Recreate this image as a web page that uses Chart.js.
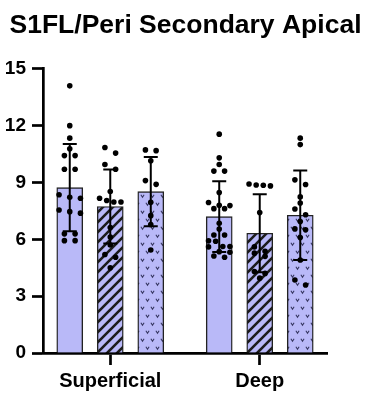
<!DOCTYPE html>
<html>
<head>
<meta charset="utf-8">
<script src="https://cdn.jsdelivr.net/npm/chart.js@4.4.0/dist/chart.umd.min.js"></script>
<style>
  html, body { margin: 0; padding: 0; background: #fff; }
  canvas { display: block; }
</style>
</head>
<body>
<canvas id="chart" width="365" height="395"></canvas>
<script>
// chart data
const categories = ["Superficial", "Deep"];
const seriesNames = ["Group 1", "Group 2", "Group 3"];
const yTicks = [0, 3, 6, 9, 12, 15];

// bar height (mean) and SD for each series, per category
const meanA = [8.73, 7.20];
const meanB = [7.73, 6.32];
const meanC = [8.52, 7.27];
const sdA = [2.30, 1.87];
const sdB = [1.95, 2.06];
const sdC = [1.83, 2.36];

// individual points, per category
const pointsA = [
  [14.1, 12.0, 11.34, 10.78, 10.42, 10.42, 9.7, 9.7, 8.35, 8.22, 8.17, 7.55, 7.46, 7.38, 6.29, 6.29, 5.93, 5.93],
  [11.55, 10.3, 9.95, 9.6, 9.6, 8.47, 7.94, 7.8, 7.78, 7.62, 7.62, 6.85, 6.54, 6.23, 6.23, 5.92, 5.9, 5.62, 5.62, 5.6, 5.35, 5.32, 5.12, 5.05]
];
const pointsB = [
  [10.85, 10.55, 9.95, 9.7, 8.52, 8.17, 8.05, 7.97, 7.97, 6.62, 6.12, 5.7, 5.2, 5.05, 4.5],
  [8.92, 8.87, 8.85, 8.82, 7.41, 5.6, 5.37, 5.27, 5.1, 4.3, 4.2, 3.95]
];
const pointsC = [
  [10.72, 10.68, 10.15, 9.1, 8.9, 7.95, 7.25, 6.78, 5.44],
  [11.34, 11.0, 9.14, 8.89, 8.24, 7.92, 7.6, 7.3, 6.94, 6.55, 6.5, 6.09, 4.91, 3.85, 3.59]
];

const means = [meanA, meanB, meanC];
const sds = [sdA, sdB, sdC];
const points = [pointsA, pointsB, pointsC];

const FONT = "'Liberation Sans', Arial, Helvetica, sans-serif";
const LAVENDER = "#b9b9f8";
const seriesOffset = [-0.271, 0, 0.271];
const xOf = (cat, s) => cat + 1 + seriesOffset[s];

function makeFill(kind) {
  if (kind === "solid") return LAVENDER;
  const c = document.createElement("canvas");
  const g = c.getContext("2d");
  if (kind === "hatch") {
    const n = 10;
    c.width = n; c.height = n;
    g.fillStyle = LAVENDER;
    g.fillRect(0, 0, n, n);
    g.strokeStyle = "#1c1c1c";
    g.lineWidth = 2.6;
    g.lineCap = "square";
    g.beginPath();
    for (let o = -n; o <= n; o += n) {
      g.moveTo(o, n);
      g.lineTo(o + n, 0);
    }
    g.stroke();
  } else {
    c.width = 10; c.height = 16;
    g.fillStyle = LAVENDER;
    g.fillRect(0, 0, 10, 16);
    g.strokeStyle = "#353560";
    g.lineWidth = 1.1;
    [[2.5, 4], [7.5, 12]].forEach(([x, y]) => {
      g.beginPath();
      g.moveTo(x - 1.6, y - 1.2);
      g.lineTo(x, y + 1.2);
      g.lineTo(x + 1.6, y - 1.2);
      g.stroke();
    });
  }
  return g.createPattern(c, "repeat");
}
const fills = [makeFill("solid"), makeFill("hatch"), makeFill("dots")];

const barSets = means.map((m, s) => ({
  type: "bar",
  label: seriesNames[s],
  data: m.map((v, i) => ({ x: xOf(i, s), y: v })),
  backgroundColor: fills[s],
  borderColor: "#222",
  borderWidth: 1.4,
  barThickness: 26,
  grouped: false,
  order: 3
}));

const errData = [];
means.forEach((m, s) => m.forEach((v, i) => {
  const x = xOf(i, s);
  errData.push({ x: x, y: v - sds[s][i] }, { x: x, y: v + sds[s][i] }, { x: x, y: null });
}));
const errSet = {
  type: "line",
  label: "SD",
  data: errData,
  borderColor: "#000",
  borderWidth: 2,
  spanGaps: false,
  pointStyle: "line",
  pointRadius: 7,
  pointBorderWidth: 2,
  pointBorderColor: "#000",
  order: 2
};

const dotSets = points.map((p, s) => ({
  type: "scatter",
  label: seriesNames[s] + " points",
  data: p.flatMap((vals, i) => vals.map(v => ({ x: xOf(i, s), y: v }))),
  backgroundColor: "#000",
  borderWidth: 0,
  pointRadius: 2.8,
  order: 1
}));

const chart = new Chart(document.getElementById("chart"), {
  type: "bar",
  data: { datasets: [...barSets, errSet, ...dotSets] },
  options: {
    responsive: false,
    animation: false,
    devicePixelRatio: 1,
    layout: { padding: { left: 6, right: 0, top: 0, bottom: 0 } },
    plugins: {
      legend: { display: false },
      tooltip: { enabled: false },
      title: {
        display: true,
        text: "S1FL/Peri Secondary Apical",
        color: "#000",
        font: { family: FONT, size: 26.5, weight: "bold" },
        padding: { top: 10, bottom: 27 }
      }
    },
    scales: {
      x: {
        type: "linear",
        min: 0.55,
        max: 2.45,
        offset: false,
        z: 1,
        afterBuildTicks: ax => { ax.ticks = categories.map((c, i) => ({ value: i + 1 })); },
        afterFit: ax => { ax.height = 42; },
        ticks: {
          callback: (v, i) => categories[i],
          color: "#000",
          font: { family: FONT, size: 20, weight: "bold" },
          padding: 4,
          autoSkip: false,
          maxRotation: 0
        },
        grid: { offset: false, drawOnChartArea: false, tickLength: 12, tickWidth: 2.7, tickColor: "#000" },
        border: { color: "#000", width: 2.7 }
      },
      y: {
        min: 0,
        max: 15,
        z: 1,
        afterBuildTicks: ax => { ax.ticks = yTicks.map(v => ({ value: v })); },
        afterFit: ax => { ax.width = 37; },
        ticks: { color: "#000", font: { family: FONT, size: 19, weight: "bold" }, padding: 6 },
        grid: { drawOnChartArea: false, tickLength: 11, tickWidth: 2.7, tickColor: "#000" },
        border: { color: "#000", width: 2.7 }
      },
      yRight: {
        position: "right",
        afterFit: ax => { ax.width = 38; },
        ticks: { display: false },
        grid: { display: false },
        border: { display: false }
      }
    }
  }
});

// spread the points sideways in rows, like a scatter dot plot
function swarm(values, cx) {
  const xs = chart.scales.x, ys = chart.scales.y;
  const pxX = xs.getPixelForValue(2) - xs.getPixelForValue(1);
  const pxY = ys.getPixelForValue(0) - ys.getPixelForValue(1);
  const rowTol = 5.7 / pxY;
  const rows = [];
  values.slice().sort((a, b) => b - a).forEach(v => {
    const row = rows[rows.length - 1];
    if (row && row[0] - v < rowTol) row.push(v); else rows.push([v]);
  });
  const out = [];
  rows.forEach(row => {
    const n = row.length;
    const gap = n > 1 ? Math.min(10.7, 21.4 / (n - 1)) : 0;
    row.forEach((v, k) => out.push({ x: cx + (k - (n - 1) / 2) * gap / pxX, y: v }));
  });
  return out;
}

dotSets.forEach((ds, s) => {
  ds.data = points[s].flatMap((vals, i) => swarm(vals, xOf(i, s)));
});
chart.update("none");
</script>
</body>
</html>
